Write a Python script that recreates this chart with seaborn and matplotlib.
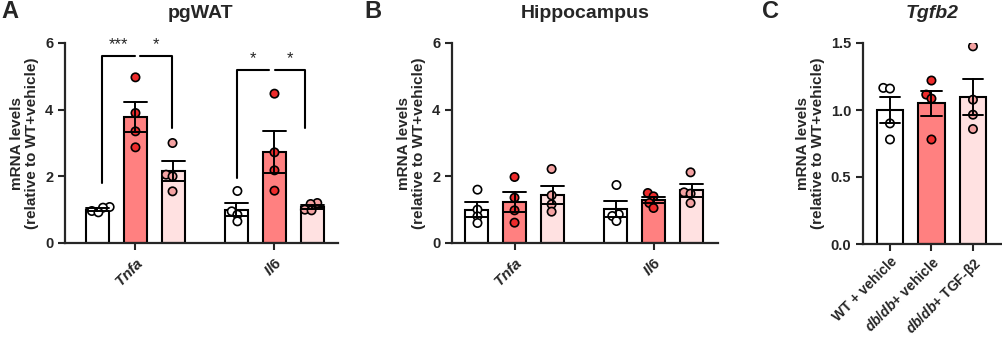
import matplotlib
matplotlib.use("Agg")
import matplotlib.pyplot as plt
import pandas as pd
import seaborn as sns

# ---- data ----
genes = ["Tnfa", "Il6"]
groups = ["WT + vehicle", "db/db+ vehicle", "db/db+ TGF-β2"]

pgwat_tnfa_wt = [1.08, 1.06, 0.96, 0.92]
pgwat_tnfa_db = [4.97, 3.90, 3.35, 2.87]
pgwat_tnfa_tgf = [3.00, 2.05, 2.00, 1.55]
pgwat_il6_wt = [1.56, 0.95, 0.85, 0.65]
pgwat_il6_db = [4.48, 2.72, 2.18, 1.57]
pgwat_il6_tgf = [1.20, 1.17, 1.00, 0.98]

hip_tnfa_wt = [1.60, 1.00, 0.80, 0.60]
hip_tnfa_db = [1.98, 1.36, 0.98, 0.61]
hip_tnfa_tgf = [2.22, 1.43, 1.16, 0.94]
hip_il6_wt = [1.74, 0.86, 0.81, 0.66]
hip_il6_db = [1.50, 1.40, 1.20, 1.05]
hip_il6_tgf = [2.12, 1.52, 1.48, 1.20]

tgfb2_wt = [1.165, 1.16, 0.90, 0.78]
tgfb2_db = [1.22, 1.115, 1.085, 0.78]
tgfb2_tgf = [1.475, 1.077, 0.965, 0.858]

# significance brackets on pgWAT: (x_left, x_right, y_left, y_right, y_top, label)
brackets_a = [
    (-0.242, -0.004, 1.80, 5.62, 5.62, "***"),
    (0.032, 0.260, 5.62, 3.45, 5.62, "*"),
    (0.728, 0.960, 1.95, 5.20, 5.20, "*"),
    (1.004, 1.220, 5.20, 3.45, 5.20, "*"),
]

bar_colors = ["#FFFFFF", "#FF8080", "#FFE1E1"]
point_colors = ["#FFFFFF", "#EE2B2B", "#F4A2A2"]


def gene_frame(series):
    rows = []
    for gene, per_group in zip(genes, series):
        for grp, vals in zip(groups, per_group):
            for v in vals:
                rows.append({"gene": gene, "group": grp, "value": v})
    return pd.DataFrame(rows)


pgwat = gene_frame([[pgwat_tnfa_wt, pgwat_tnfa_db, pgwat_tnfa_tgf],
                    [pgwat_il6_wt, pgwat_il6_db, pgwat_il6_tgf]])
hippo = gene_frame([[hip_tnfa_wt, hip_tnfa_db, hip_tnfa_tgf],
                    [hip_il6_wt, hip_il6_db, hip_il6_tgf]])
tgfb2 = pd.DataFrame({
    "group": [g for g, vals in zip(groups, [tgfb2_wt, tgfb2_db, tgfb2_tgf]) for _ in vals],
    "value": tgfb2_wt + tgfb2_db + tgfb2_tgf,
})

sns.set_style("ticks")
plt.rcParams["font.family"] = ["Liberation Sans", "DejaVu Sans"]
plt.rcParams["font.weight"] = "bold"
plt.rcParams["axes.labelweight"] = "bold"
plt.rcParams["mathtext.fontset"] = "custom"
plt.rcParams["mathtext.it"] = "Liberation Sans:italic:bold"
plt.rcParams["mathtext.rm"] = "Liberation Sans:bold"

fig = plt.figure(figsize=(10.03, 3.38), dpi=100)
axA = fig.add_axes([65 / 1003, 1 - 243 / 338, 273 / 1003, 200 / 338])
axB = fig.add_axes([452 / 1003, 1 - 243 / 338, 266 / 1003, 200 / 338])
axC = fig.add_axes([863 / 1003, 1 - 244 / 338, 139 / 1003, 201 / 338])

YLABEL = "mRNA levels\n(relative to WT+vehicle)"
DOT = 6.0


def style_axis(ax):
    sns.despine(ax=ax)
    for s in ["left", "bottom"]:
        ax.spines[s].set_linewidth(1.6)
    ax.tick_params(width=1.5, length=5, labelsize=10.5)
    for line in ax.lines:
        line.set_zorder(4)
    for coll in ax.collections:
        coll.set_zorder(3)
    ax.set_ylabel(YLABEL, fontsize=11, fontweight="bold", linespacing=1.1)
    ax.set_xlabel("")


def gene_panel(ax, df, xlim):
    sns.barplot(df, x="gene", y="value", hue="group", hue_order=groups,
                palette=bar_colors, width=0.82, gap=0.38, errorbar="se",
                capsize=0.5, err_kws={"color": "black", "linewidth": 1.4},
                edgecolor="black", linewidth=1.5, saturation=1, legend=False, ax=ax)
    sns.swarmplot(df, x="gene", y="value", hue="group", hue_order=groups,
                  palette=point_colors, dodge=True, size=3.4,
                  edgecolor="black", linewidth=1.2, legend=False, ax=ax)
    ax.set_ylim(0, 6)
    ax.set_yticks([0, 2, 4, 6])
    ax.set_xlim(*xlim)
    ax.set_xticks([0, 1])
    ax.set_xticklabels([r"$\mathit{Tnfa}$", r"$\mathit{Il6}$"], rotation=45,
                       ha="right", rotation_mode="anchor")
    style_axis(ax)
    ax.tick_params(axis="x", labelsize=11)


gene_panel(axA, pgwat, (-0.507, 1.457))
gene_panel(axB, hippo, (-0.45, 1.464))

for x0, x1, y0, y1, ytop, lab in brackets_a:
    axA.plot([x0, x0, x1, x1], [y0, ytop, ytop, y1], color="black",
             linewidth=1.5, clip_on=False, zorder=5)
    axA.text((x0 + x1) / 2, ytop + 0.12, lab, ha="center", va="bottom",
             fontsize=12, fontweight="normal", clip_on=False)

sns.barplot(tgfb2, x="group", y="value", hue="group", order=groups, hue_order=groups,
            palette=bar_colors, width=0.63, errorbar="se", capsize=0.5,
            err_kws={"color": "black", "linewidth": 1.4}, edgecolor="black",
            linewidth=1.5, saturation=1, legend=False, ax=axC)
sns.swarmplot(tgfb2, x="group", y="value", hue="group", order=groups, hue_order=groups,
              palette=point_colors, size=3.4, edgecolor="black", linewidth=1.2,
              legend=False, ax=axC)
axC.set_ylim(0, 1.5)
axC.set_yticks([0, 0.5, 1.0, 1.5])
axC.set_yticklabels(["0.0", "0.5", "1.0", "1.5"])
axC.set_xlim(-0.65, 2.7)
axC.set_xticks([0, 1, 2])
axC.set_xticklabels(["WT + vehicle", r"$\mathit{db/db}$+ vehicle",
                     r"$\mathit{db/db}$+ TGF-β2"], rotation=45, ha="right",
                    rotation_mode="anchor")
style_axis(axC)
axC.tick_params(axis="x", labelsize=10, pad=2.5)

# swarms are laid out with small dots at the first draw; then freeze the
# layout and draw the dots larger so neighbours overlap as in the original
fig.canvas.draw()
for ax in (axA, axB, axC):
    for coll in ax.collections:
        if "draw" in coll.__dict__:
            del coll.draw
        coll.set_sizes([DOT ** 2])

# titles and panel letters
fig.text(201 / 1003, 1 - 14 / 338, "pgWAT", ha="center", va="center", fontsize=14)
fig.text(585 / 1003, 1 - 14 / 338, "Hippocampus", ha="center", va="center", fontsize=14)
fig.text(932 / 1003, 1 - 14 / 338, "Tgfb2", ha="center", va="center", fontsize=14,
         fontstyle="italic")
for xpx, lab in [(1, "A"), (364, "B"), (762, "C")]:
    fig.text(xpx / 1003, 1 - 12 / 338, lab, ha="left", va="center", fontsize=17)

fig.savefig("out.png", dpi=100, facecolor="white")
